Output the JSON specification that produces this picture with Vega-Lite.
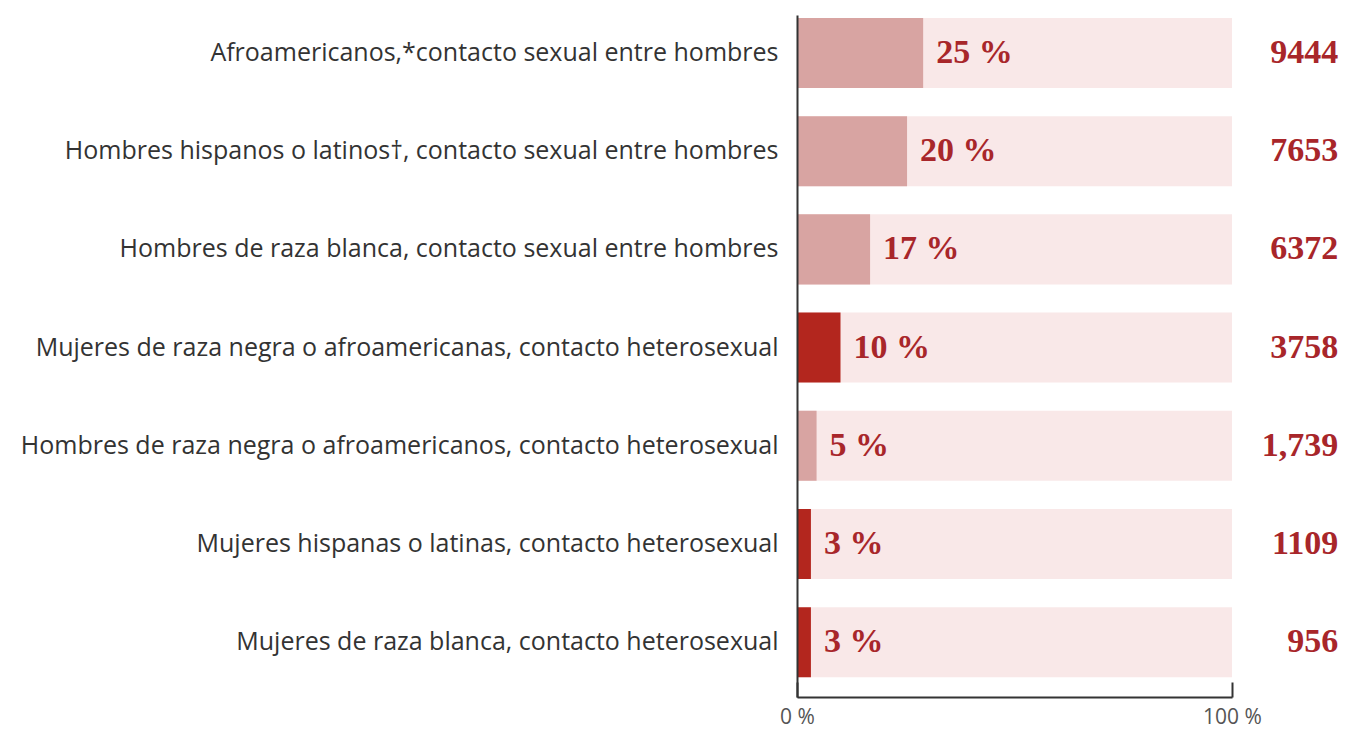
{
  "$schema": "https://vega.github.io/schema/vega-lite/v6.json",
  "width": 435,
  "height": 682,
  "autosize": "none",
  "padding": {"left": 797, "top": 15, "right": 116, "bottom": 34},
  "background": "white",
  "config": {"view": {"stroke": null}, "axis": {"grid": false}},
  "data": {"values": [
    {"grupo": "Afroamericanos,*contacto sexual entre hombres", "sexo": "Hombres", "barra": 29, "etiqueta": "25 %", "casos": "9444"},
    {"grupo": "Hombres hispanos o latinos†, contacto sexual entre hombres", "sexo": "Hombres", "barra": 25.3, "etiqueta": "20 %", "casos": "7653"},
    {"grupo": "Hombres de raza blanca, contacto sexual entre hombres", "sexo": "Hombres", "barra": 16.8, "etiqueta": "17 %", "casos": "6372"},
    {"grupo": "Mujeres de raza negra o afroamericanas, contacto heterosexual", "sexo": "Mujeres", "barra": 10, "etiqueta": "10 %", "casos": "3758"},
    {"grupo": "Hombres de raza negra o afroamericanos, contacto heterosexual", "sexo": "Hombres", "barra": 4.5, "etiqueta": "5 %", "casos": "1,739"},
    {"grupo": "Mujeres hispanas o latinas, contacto heterosexual", "sexo": "Mujeres", "barra": 3.2, "etiqueta": "3 %", "casos": "1109"},
    {"grupo": "Mujeres de raza blanca, contacto heterosexual", "sexo": "Mujeres", "barra": 3.2, "etiqueta": "3 %", "casos": "956"}
  ]},
  "encoding": {
    "y": {
      "field": "grupo", "type": "nominal", "sort": null,
      "scale": {"paddingInner": 0.287, "paddingOuter": 0.116, "align": 0.13},
      "axis": {
        "title": null, "ticks": false, "labelPadding": 19,
        "labelFont": "Open Sans", "labelFontSize": 25, "labelColor": "#333333",
        "labelLimit": 800, "domainColor": "#333333", "domainWidth": 2, "zindex": 1
      }
    }
  },
  "layer": [
    {
      "mark": {"type": "bar", "color": "#f9e8e8"},
      "encoding": {
        "x": {
          "datum": 100, "type": "quantitative",
          "scale": {"domain": [0, 100], "nice": false},
          "axis": {
            "title": null, "values": [0, 100], "labelExpr": "datum.value + ' %'",
            "labelFont": "Open Sans", "labelFontSize": 21, "labelColor": "#555555",
            "labelPadding": 24, "tickSize": -15, "tickColor": "#333333", "tickWidth": 2,
            "domainColor": "#333333", "domainWidth": 2, "zindex": 1, "labelFlush": false
          }
        }
      }
    },
    {
      "mark": {"type": "bar"},
      "encoding": {
        "x": {"field": "barra", "type": "quantitative"},
        "color": {
          "field": "sexo", "type": "nominal",
          "scale": {"domain": ["Hombres", "Mujeres"], "range": ["#d8a4a2", "#b3261e"]},
          "legend": null
        }
      }
    },
    {
      "mark": {"type": "text", "align": "left", "baseline": "middle", "dx": 13, "font": "Liberation Serif", "fontWeight": "bold", "fontSize": 34, "color": "#a8262a"},
      "encoding": {
        "x": {"field": "barra", "type": "quantitative"},
        "text": {"field": "etiqueta"}
      }
    },
    {
      "mark": {"type": "text", "align": "right", "baseline": "middle", "font": "Liberation Serif", "fontWeight": "bold", "fontSize": 34, "color": "#a8262a"},
      "encoding": {
        "x": {"datum": 124.4, "type": "quantitative"},
        "text": {"field": "casos"}
      }
    }
  ]
}
